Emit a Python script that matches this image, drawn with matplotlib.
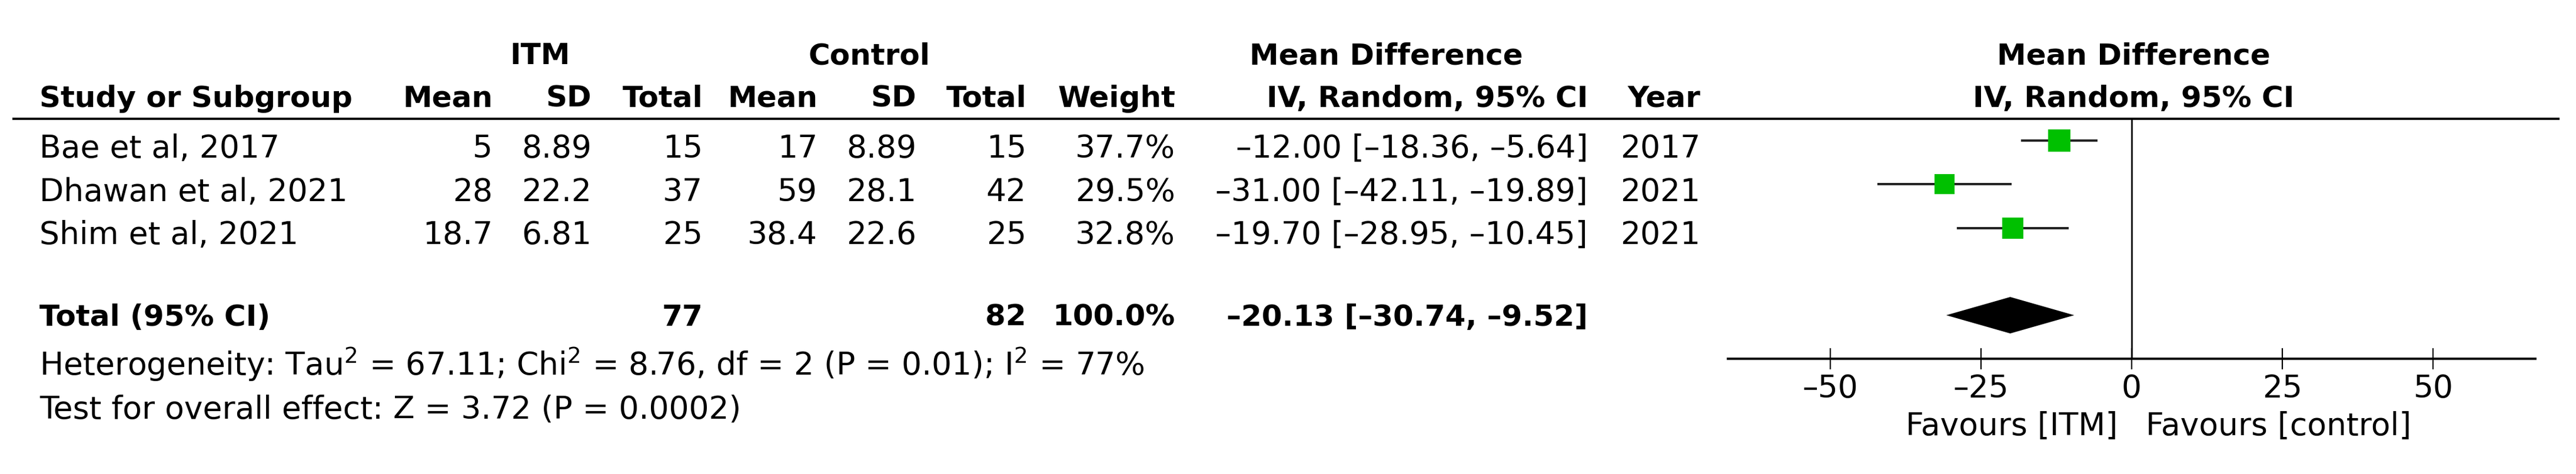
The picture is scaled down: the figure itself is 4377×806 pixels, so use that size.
import matplotlib
matplotlib.use("Agg")
import matplotlib.pyplot as plt

# data
studies = ["Bae et al, 2017", "Dhawan et al, 2021", "Shim et al, 2021"]
itm_mean = [5, 28, 18.7]
itm_sd = [8.89, 22.2, 6.81]
itm_total = [15, 37, 25]
ctl_mean = [17, 59, 38.4]
ctl_sd = [8.89, 28.1, 22.6]
ctl_total = [15, 42, 25]
weights = [37.7, 29.5, 32.8]
md = [-12.00, -31.00, -19.70]
ci_low = [-18.36, -42.11, -28.95]
ci_high = [-5.64, -19.89, -10.45]
years = [2017, 2021, 2021]

total_itm = 77
total_ctl = 82
total_weight = 100.0
total_md = -20.13
total_low = -30.74
total_high = -9.52

tau2 = 67.11
chi2 = 8.76
df_het = 2
p_het = "0.01"
i2 = 77
z_value = 3.72
p_z = "0.0002"

xticks = [-50, -25, 0, 25, 50]

W, H = 4377, 806
FS = 38.5
FSB = 36
GREEN = "#00c000"


def dash(s):
    return s.replace("-", "\u2013")


def ci_text(m, lo, hi):
    return dash("{:.2f} [{:.2f}, {:.2f}]".format(m, lo, hi))


def main():
    plt.rcParams['font.family'] = ['DejaVu Sans']
    plt.rcParams['mathtext.default'] = 'regular'
    fig = plt.figure(figsize=(W / 100, H / 100), dpi=100)
    ax = fig.add_axes([0, 0, 1, 1])
    ax.set_xlim(0, W)
    ax.set_ylim(H, 0)
    ax.axis('off')

    # header
    ax.text(918, 109, "ITM", ha='center', fontsize=FSB, fontweight='bold')
    ax.text(1477, 109, "Control", ha='center', fontsize=FSB, fontweight='bold')
    ax.text(2355, 109, "Mean Difference", ha='center', fontsize=FSB, fontweight='bold')
    ax.text(3625, 109, "Mean Difference", ha='center', fontsize=FSB, fontweight='bold')
    ax.text(67, 182, "Study or Subgroup", ha='left', fontsize=FSB, fontweight='bold')
    cols = [(837, "Mean"), (1005, "SD"), (1194, "Total"), (1389, "Mean"), (1557, "SD"),
            (1744, "Total"), (1997, "Weight"), (2698, "IV, Random, 95% CI"), (2889, "Year")]
    for x, lab in cols:
        ax.text(x, 182, lab, ha='right', fontsize=FSB, fontweight='bold')
    ax.text(3625, 182, "IV, Random, 95% CI", ha='center', fontsize=FSB, fontweight='bold')
    ax.plot([21, 4349], [202, 202], color='black', lw=2.7, solid_capstyle='butt')

    # study rows
    row_base = [268, 342, 415]
    for i in range(len(studies)):
        y = row_base[i]
        ax.text(67, y, studies[i], ha='left', fontsize=FS)
        vals = ["{:g}".format(itm_mean[i]), "{:g}".format(itm_sd[i]), str(itm_total[i]),
                "{:g}".format(ctl_mean[i]), "{:g}".format(ctl_sd[i]), str(ctl_total[i]),
                "{:.1f}%".format(weights[i]), ci_text(md[i], ci_low[i], ci_high[i]),
                str(years[i])]
        for (x, _), v in zip(cols, vals):
            ax.text(x, y, v, ha='right', fontsize=FS)

    # total row
    ax.text(67, 554, "Total (95% CI)", ha='left', fontsize=FSB, fontweight='bold')
    ax.text(1194, 554, str(total_itm), ha='right', fontsize=FSB, fontweight='bold')
    ax.text(1744, 554, str(total_ctl), ha='right', fontsize=FSB, fontweight='bold')
    ax.text(1997, 554, "{:.1f}%".format(total_weight), ha='right', fontsize=FSB, fontweight='bold')
    ax.text(2698, 554, ci_text(total_md, total_low, total_high), ha='right',
            fontsize=FSB, fontweight='bold')

    het = "Heterogeneity: Tau$^{2}$ = %.2f; Chi$^{2}$ = %.2f, df = %d (P = %s); I$^{2}$ = %d%%" % (
        tau2, chi2, df_het, p_het, i2)
    ax.text(67, 638, het, ha='left', fontsize=FS)
    ax.text(67, 712, "Test for overall effect: Z = %.2f (P = %s)" % (z_value, p_z),
            ha='left', fontsize=FS)

    # forest plot
    left, right, top, bottom = 2936, 4308, 202, 610
    fax = fig.add_axes([left / W, (H - bottom) / H, (right - left) / W, (bottom - top) / H])
    fax.set_xlim(-66.93, 66.93)
    fax.set_ylim(bottom, top)
    fax.patch.set_visible(False)
    for s in ['left', 'right', 'top']:
        fax.spines[s].set_visible(False)
    fax.spines['bottom'].set_linewidth(2.8)
    fax.set_yticks([])
    fax.set_xticks(xticks)
    fax.set_xticklabels([dash(str(t)) for t in xticks], fontsize=FS)
    fax.tick_params(axis='x', direction='inout', length=26, width=1.6, pad=5)
    fax.axvline(0, color='black', lw=1.9)

    forest_y = [239, 313, 388]
    fax.hlines(forest_y, ci_low, ci_high, color='#1f1f1f', lw=2.8)
    sizes = [19.9 * w for w in weights]
    fax.scatter(md, forest_y, s=sizes, marker='s', color=GREEN, linewidths=0, zorder=3)

    dy = 536
    half = 31
    fax.fill([total_low, total_md, total_high, total_md], [dy, dy - half, dy, dy + half],
             color='black', lw=0, zorder=3)

    ax.text(3598, 740, "Favours [ITM]", ha='right', fontsize=FS)
    ax.text(3646, 740, "Favours [control]", ha='left', fontsize=FS)

    fig.savefig("out.png", dpi=100)
    print("save : {}".format("out.png"))
    return 0


if __name__ == "__main__":
    main()
